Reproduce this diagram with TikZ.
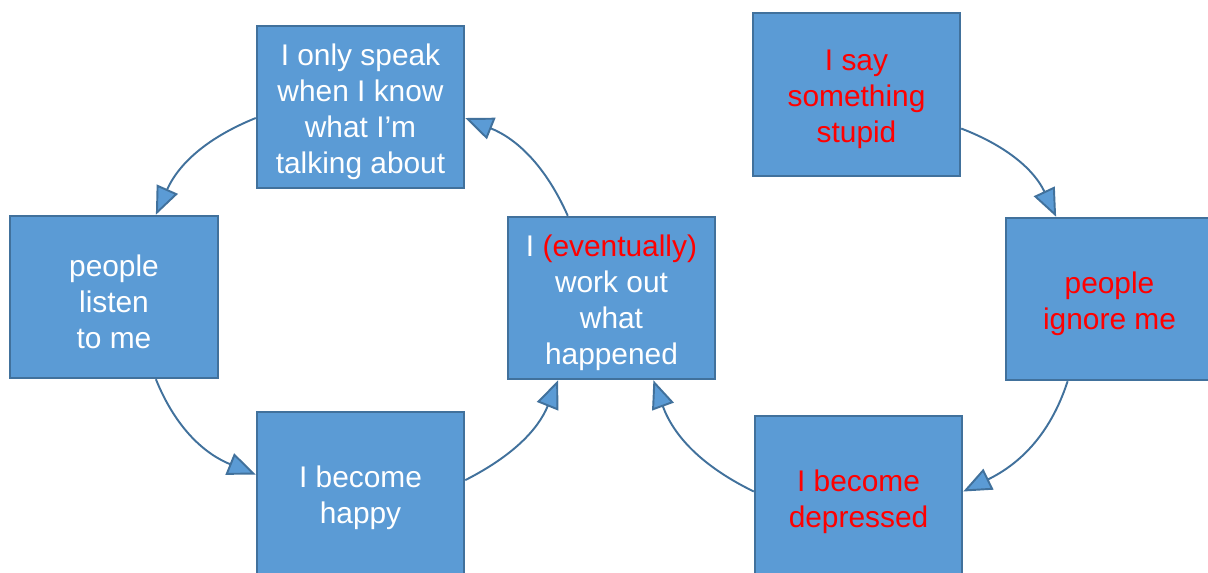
\documentclass[tikz,border=0pt]{standalone}
\usepackage{fontspec}
\setmainfont{Liberation Sans}
\usetikzlibrary{arrows.meta}

\definecolor{boxfill}{HTML}{5B9BD5}
\definecolor{boxline}{HTML}{41719C}
\definecolor{alarm}{HTML}{FF0000}

\tikzset{
    card/.style={draw=boxline, line width=1.1pt, fill=boxfill,
        minimum width=4.15cm, minimum height=3.25cm},
    words/.style={text=white, align=center, yshift=-0.09cm,
        font=\fontsize{17}{20.5}\selectfont},
    loop/.style={draw=boxline, line width=1.1pt,
        -{Triangle[length=16pt,width=13pt,fill=boxfill]}}
}

\begin{document}
\begin{tikzpicture}[text centered]
    \useasboundingbox (0,0) rectangle (24.16,-11.46);

    % good cycle
    \node [card, label={[words]center:{I only speak \\ when I know \\ what I’m \\ talking about}}] (speak) at (7.21,-2.14) {};
    \node [card, label={[words]center:{people \\ listen \\ to me}}] (listen) at (2.28,-5.94) {};
    \node [card, label={[words]center:{I become \\ happy}}] (happy) at (7.21,-9.86) {};
    \node [card, label={[words]center:{I \textcolor{alarm}{(eventually)} \\ work out \\ what \\ happened}}] (work) at (12.23,-5.96) {};

    % bad cycle
    \node [card, label={[words, text=alarm]center:{I say \\ something \\ stupid}}] (stupid) at (17.13,-1.89) {};
    \node [card, label={[words, text=alarm]center:{people \\ ignore me}}] (ignore) at (22.19,-5.98) {};
    \node [card, label={[words, text=alarm]center:{I become \\ depressed}}] (depressed) at (17.17,-9.94) {};

    \draw [loop] (speak.186) to [out=202, in=66] (listen.63);
    \draw [loop] (listen.-63) to [out=-68, in=158] (happy.170);
    \draw [loop] (happy.7) to [out=27, in=-112] (work.-123);
    \draw [loop] (work.118) to [out=114, in=-22] (speak.-6);

    \draw [loop] (stupid.-18) to [out=-21, in=115] (ignore.123);
    \draw [loop] (ignore.-117) to [out=-108, in=26] (depressed.3);
    \draw [loop] (depressed.177) to [out=154, in=-70] (work.-63);

\end{tikzpicture}
\end{document}
